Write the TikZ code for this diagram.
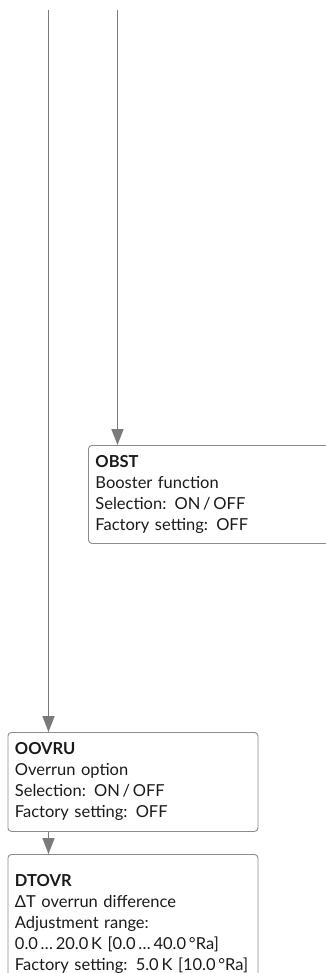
\documentclass[tikz,border=0pt]{standalone}
\usepackage{fontspec}
\setmainfont{Lato}
\usetikzlibrary{arrows.meta}
\definecolor{linegray}{HTML}{7A7A7A}
\definecolor{boxgray}{HTML}{8C8C8C}
\definecolor{textc}{HTML}{1A1A1A}
\begin{document}
\begin{tikzpicture}[x=1pt,y=-1pt,
  conn/.style={draw=linegray, line width=1.6pt, -{Triangle[length=16pt,width=12pt]}},
  menubox/.style={draw=boxgray, line width=0.9pt, rounded corners=3.5pt, anchor=north west,
    align=left, text width=236pt, inner xsep=7pt, inner ysep=7.5pt, text=textc,
    font=\fontsize{16.5}{21}\selectfont},
  ]
\useasboundingbox (0,0) rectangle (325,973);
\coordinate (s1) at (48.5,10);
\coordinate (s2) at (117.5,10);
\node[menubox, minimum height=98pt] (obst) at (88,445)
  {\textbf{OBST}\\Booster function\\Selection: ON\,/\,OFF\\Factory setting: OFF};
\node[menubox, minimum height=99pt] (oovru) at (7.5,732)
  {\textbf{OOVRU}\\Overrun option\\Selection: ON\,/\,OFF\\Factory setting: OFF};
\node[menubox, minimum height=140pt] (dtovr) at (7.5,854)
  {\textbf{DTOVR}\\ΔT overrun difference\\Adjustment range:\\0.0\,…\,20.0\,K [0.0\,…\,40.0\,°Ra]\\Factory setting: 5.0\,K [10.0\,°Ra]};
\draw[conn] (s2) -- (s2 |- obst.north);
\draw[conn] (s1) -- (s1 |- oovru.north);
\draw[conn] (s1 |- oovru.south) -- (s1 |- dtovr.north);
\end{tikzpicture}
\end{document}
